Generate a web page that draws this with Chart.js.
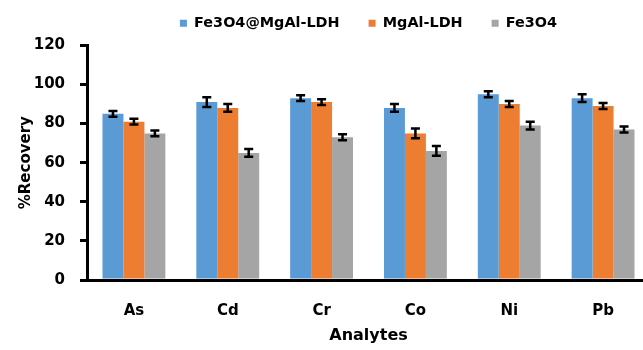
<!DOCTYPE html>
<html>
<head>
<meta charset="utf-8">
<script src="https://cdn.jsdelivr.net/npm/chart.js@4"></script>
<style>
  body { margin: 0; background: #fff; overflow: hidden; }
</style>
</head>
<body>
<canvas id="recoveryChart" width="655" height="350"></canvas>
<script>
// categories and series
var analytes = ['As', 'Cd', 'Cr', 'Co', 'Ni', 'Pb'];
var seriesNames = ['Fe3O4@MgAl-LDH', 'MgAl-LDH', 'Fe3O4'];
var ldhComposite = [85, 91, 93, 88, 95, 93];
var ldhOnly = [81, 88, 91, 75, 90, 89];
var magnetite = [75, 65, 73, 66, 79, 77];
// error bar half-lengths
var ldhCompositeErr = [1.5, 2.5, 1.5, 2, 1.5, 2];
var ldhOnlyErr = [1.5, 2, 1.5, 2.5, 1.5, 1.5];
var magnetiteErr = [1.5, 2, 1.5, 2.5, 2, 1.5];
var yTicks = [0, 20, 40, 60, 80, 100, 120];

var colors = ['#5B9BD5', '#ED7D31', '#A5A5A5'];
var fontFamily = '"DejaVu Sans", sans-serif';

// draws the black error bars on top of each bar
var errorBars = {
    id: 'errorBars',
    afterDatasetsDraw: function(chart) {
        var ctx = chart.ctx;
        var yScale = chart.scales.y;
        ctx.save();
        ctx.strokeStyle = '#000';
        ctx.lineWidth = 2.5;
        chart.data.datasets.forEach(function(ds, i) {
            var meta = chart.getDatasetMeta(i);
            meta.data.forEach(function(bar, j) {
                var v = ds.data[j];
                var e = ds.errors[j];
                var yTop = yScale.getPixelForValue(v + e);
                var yBot = yScale.getPixelForValue(v - e);
                ctx.beginPath();
                ctx.moveTo(bar.x, yTop);
                ctx.lineTo(bar.x, yBot);
                ctx.moveTo(bar.x - 4.5, yTop);
                ctx.lineTo(bar.x + 4.5, yTop);
                ctx.moveTo(bar.x - 4.5, yBot);
                ctx.lineTo(bar.x + 4.5, yBot);
                ctx.stroke();
            });
        });
        ctx.restore();
    }
};

// legend sits over the plot area and a bit higher, like the original
var legendPlace = {
    id: 'legendPlace',
    afterLayout: function(chart) {
        var lg = chart.legend;
        var h = lg.height;
        lg.top = -13;
        lg.bottom = lg.top + h;
        lg.left = chart.chartArea.left;
        lg.right = chart.chartArea.right;
        lg.width = lg.right - lg.left;
    }
};

var ctx = document.getElementById('recoveryChart').getContext('2d');
new Chart(ctx, {
    type: 'bar',
    data: {
        labels: analytes,
        datasets: [
            { label: seriesNames[0], data: ldhComposite, errors: ldhCompositeErr, backgroundColor: colors[0] },
            { label: seriesNames[1], data: ldhOnly, errors: ldhOnlyErr, backgroundColor: colors[1] },
            { label: seriesNames[2], data: magnetite, errors: magnetiteErr, backgroundColor: colors[2] }
        ]
    },
    options: {
        responsive: false,
        devicePixelRatio: 1,
        animation: false,
        layout: { padding: { top: -8, right: 5 } },
        datasets: {
            bar: { categoryPercentage: 0.67, barPercentage: 1 }
        },
        plugins: {
            tooltip: { enabled: false },
            legend: {
                position: 'top',
                labels: {
                    boxWidth: 7,
                    boxHeight: 7,
                    padding: 29,
                    color: '#000',
                    font: { family: fontFamily, size: 14.4, weight: 'bold' }
                }
            }
        },
        scales: {
            x: {
                grid: { display: false, drawTicks: false },
                border: { color: '#000', width: 3 },
                ticks: {
                    color: '#000',
                    padding: 22,
                    font: { family: fontFamily, size: 15, weight: 'bold' }
                },
                title: {
                    display: true,
                    text: 'Analytes',
                    color: '#000',
                    padding: { top: 4, bottom: 5 },
                    font: { family: fontFamily, size: 16, weight: 'bold' }
                },
                afterFit: function(s) { s.height = 70; }
            },
            y: {
                min: 0,
                max: 120,
                afterBuildTicks: function(s) {
                    s.ticks = yTicks.map(function(v) { return { value: v }; });
                },
                grid: { drawOnChartArea: false, color: '#000', lineWidth: 3, tickLength: 7 },
                border: { color: '#000', width: 3 },
                ticks: {
                    color: '#000',
                    padding: 15,
                    font: { family: fontFamily, size: 15, weight: 'bold' }
                },
                title: {
                    display: true,
                    text: '%Recovery',
                    color: '#000',
                    padding: { top: 17, bottom: 0 },
                    font: { family: fontFamily, size: 15, weight: 'bold' }
                },
                afterFit: function(s) { s.width = 87; }
            }
        }
    },
    plugins: [errorBars, legendPlace]
});
</script>
</body>
</html>
